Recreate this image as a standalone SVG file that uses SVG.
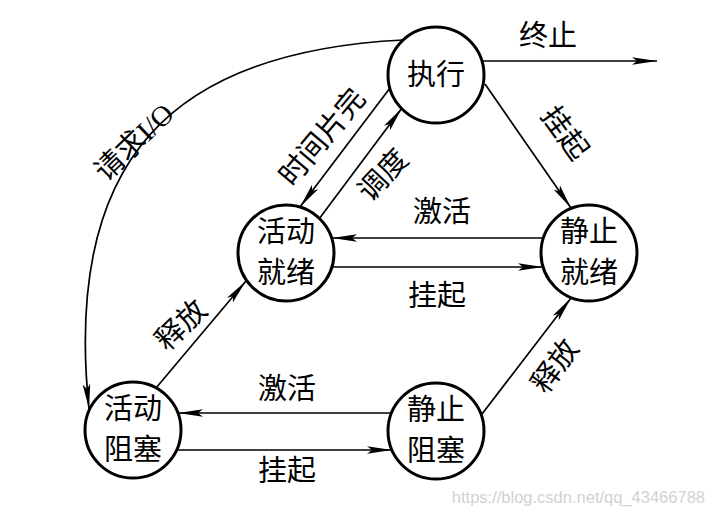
<svg xmlns="http://www.w3.org/2000/svg" width="714" height="515" viewBox="0 0 714 515">
  <defs>
    <marker id="arr" markerWidth="26" markerHeight="10" refX="25" refY="5" orient="auto" markerUnits="userSpaceOnUse">
      <path d="M0,1.2 L25,5 L0,8.8 L5,5 Z" fill="#000"/>
    </marker>
    <style>
      .state circle { fill: #fff; stroke: #000; stroke-width: 3; }
      .state text, .lbl { font-family: "Liberation Serif", "Noto Sans CJK SC", serif; font-size: 29px; fill: #000; text-anchor: middle; dominant-baseline: central; }
      .edge { fill: none; stroke: #000; stroke-width: 1.7; marker-end: url(#arr); }
      .mark { font-family: "Liberation Sans", Arial, sans-serif; font-size: 16.5px; fill: #d2d2d2; text-anchor: end; }
    </style>
  </defs>
  <rect width="714" height="515" fill="#fff"/>

  <!-- transitions -->
  <g id="connectors">
    <line class="edge" x1="482" y1="61" x2="657" y2="61"/>
    <line class="edge" x1="485" y1="84" x2="571" y2="208"/>
    <line class="edge" x1="390" y1="88" x2="300" y2="207"/>
    <line class="edge" x1="319" y1="219" x2="402" y2="108"/>
    <line class="edge" x1="543" y1="238" x2="332" y2="238"/>
    <line class="edge" x1="332" y1="267" x2="543" y2="267"/>
    <line class="edge" x1="156" y1="388" x2="246" y2="281"/>
    <line class="edge" x1="391" y1="413" x2="178" y2="413"/>
    <line class="edge" x1="177" y1="450" x2="392" y2="450"/>
    <line class="edge" x1="482" y1="414" x2="571" y2="298"/>
    <path class="edge" d="M403,40 C173,51.5 63,158 89,409"/>
  </g>

  <!-- transition labels -->
  <g id="labels">
    <text class="lbl" x="548" y="36">终止</text>
    <text class="lbl" transform="translate(565,133) rotate(54)">挂起</text>
    <text class="lbl" transform="translate(322,137) rotate(-50)">时间片完</text>
    <text class="lbl" transform="translate(383,175) rotate(-47)">调度</text>
    <text class="lbl" x="442" y="212">激活</text>
    <text class="lbl" x="437" y="296">挂起</text>
    <text class="lbl" transform="translate(181,325) rotate(-44)">释放</text>
    <text class="lbl" transform="translate(555,366) rotate(-54)">释放</text>
    <text class="lbl" x="287" y="389">激活</text>
    <text class="lbl" x="287" y="471">挂起</text>
    <text class="lbl" transform="translate(134,142) rotate(-44)">请求I/O</text>
  </g>

  <!-- process states -->
  <g id="running" class="state">
    <circle cx="436" cy="75" r="48"/>
    <text x="436" y="75">执行</text>
  </g>
  <g id="active-ready" class="state">
    <circle cx="286" cy="253" r="48"/>
    <text x="286" y="232">活动</text>
    <text x="286" y="273">就绪</text>
  </g>
  <g id="static-ready" class="state">
    <circle cx="589" cy="253" r="48"/>
    <text x="589" y="232">静止</text>
    <text x="589" y="273">就绪</text>
  </g>
  <g id="active-blocked" class="state">
    <circle cx="133" cy="430" r="48"/>
    <text x="133" y="409">活动</text>
    <text x="133" y="450">阻塞</text>
  </g>
  <g id="static-blocked" class="state">
    <circle cx="436" cy="431" r="48"/>
    <text x="436" y="410">静止</text>
    <text x="436" y="451">阻塞</text>
  </g>

  <text class="mark" x="705" y="503">https://blog.csdn.net/qq_43466788</text>
</svg>
